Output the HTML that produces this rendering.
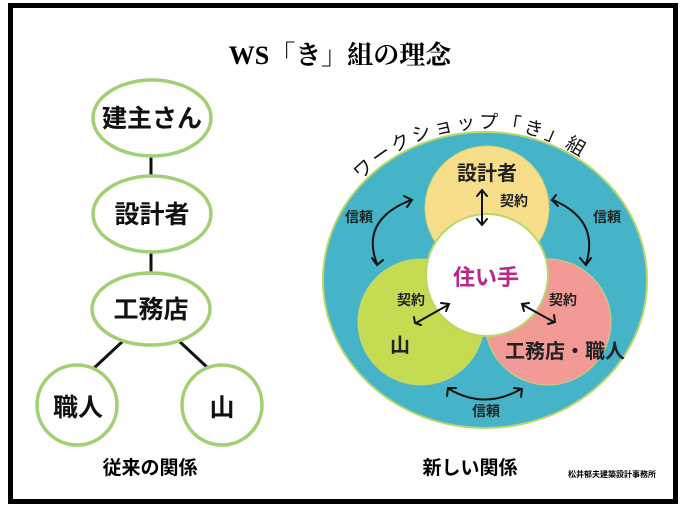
<!DOCTYPE html>
<html><head><meta charset="utf-8"><style>
html,body{margin:0;padding:0;background:#fff;}
svg{display:block;}
text{font-family:"Liberation Sans","Noto Sans CJK JP",sans-serif;font-weight:bold;}
</style></head><body>
<svg width="680" height="509" viewBox="0 0 680 509" xmlns="http://www.w3.org/2000/svg">
<rect x="0" y="0" width="680" height="509" fill="#fff"/>
<rect x="10.5" y="5.5" width="665" height="496" fill="#fff" stroke="#000" stroke-width="5"/>
<text x="340" y="64" text-anchor="middle" font-size="26" style="font-family:'Liberation Serif','Noto Serif CJK SC',serif">WS「き」組の理念</text>
<g stroke="#111" stroke-width="3">
<line x1="151" y1="156" x2="151" y2="176"/>
<line x1="151" y1="253" x2="151" y2="273"/>
<line x1="123" y1="341" x2="93" y2="369"/>
<line x1="179" y1="341" x2="209" y2="369"/>
</g>
<g fill="#fff" stroke="#a2cf72" stroke-width="3.5">
<ellipse cx="152" cy="118" rx="59" ry="38"/>
<ellipse cx="152" cy="214" rx="59" ry="38"/>
<ellipse cx="151" cy="309" rx="59" ry="36"/>
<circle cx="77" cy="405" r="40"/>
<circle cx="222" cy="405" r="40"/>
</g>
<g font-size="25" text-anchor="middle" fill="#111">
<text x="152" y="127">建主さん</text>
<text x="152" y="223">設計者</text>
<text x="151" y="318">工務店</text>
<text x="78" y="416">職人</text>
<text x="222" y="416">山</text>
</g>
<text x="150" y="474" font-size="19" text-anchor="middle">従来の関係</text>
<text x="470" y="474" font-size="19" text-anchor="middle">新しい関係</text>
<text x="612" y="477" font-size="8" text-anchor="middle">松井郁夫建築設計事務所</text>

<ellipse cx="485" cy="280" rx="162" ry="148" fill="#45b4c8" stroke="#b8d66a" stroke-width="2"/>
<circle cx="487" cy="208" r="62" fill="#f7de8a" stroke="#c9d472" stroke-width="1"/>
<circle cx="548" cy="322" r="63" fill="#f29a96" stroke="#c9d472" stroke-width="1"/>
<circle cx="421" cy="322" r="63" fill="#c5dc52" stroke="#c9d472" stroke-width="1"/>
<circle cx="487" cy="275" r="61" fill="#fff" stroke="#b8d66a" stroke-width="2"/>
<defs><path id="arc" d="M 355 187 A 168 160 0 0 1 615 187"/></defs>
<text font-size="19" style="font-weight:normal" fill="#111" letter-spacing="3"><textPath href="#arc" startOffset="3%">ワークショップ「き」組</textPath></text>
<text x="487" y="180" font-size="20" text-anchor="middle" fill="#222">設計者</text>
<text x="486" y="285" font-size="22" text-anchor="middle" fill="#b8278c">住い手</text>
<text x="400" y="352" font-size="20" text-anchor="middle" fill="#222">山</text>
<text x="565" y="358" font-size="20" text-anchor="middle" fill="#222">工務店・職人</text>
<g font-size="14" fill="#222" style="font-weight:normal">
<text x="514" y="206" text-anchor="middle">契約</text>
<text x="411" y="305" text-anchor="middle">契約</text>
<text x="563" y="305" text-anchor="middle">契約</text>
<text x="359" y="222" text-anchor="middle">信頼</text>
<text x="607" y="222" text-anchor="middle">信頼</text>
<text x="486" y="416" text-anchor="middle">信頼</text>
</g>
<g stroke="#111" stroke-width="2" fill="none" stroke-linecap="round">
<line x1="482" y1="191" x2="482" y2="224"/>
<polyline points="477,196 482,190 487,196"/>
<polyline points="477,219 482,225 487,219"/>
<line x1="416" y1="323" x2="448" y2="305"/>
<polyline points="414,317 415,323 421,325"/>
<polyline points="441,303 449,304 446,311"/>
<line x1="523" y1="305" x2="554" y2="322"/>
<polyline points="524,311 522,304 529,303"/>
<polyline points="548,324 555,322 554,315"/>
<path d="M 411 200 Q 360 220 377 264"/>
<polyline points="404,196 412,200 407,207"/>
<polyline points="372,258 377,265 383,260"/>
<path d="M 553 200 Q 600 220 586 264"/>
<polyline points="556,195 552,200 558,206"/>
<polyline points="580,258 586,265 591,258"/>
<path d="M 449 389 Q 485 410 521 389"/>
<polyline points="447,396 448,388 456,388"/>
<polyline points="514,388 522,389 521,397"/>
</g>
</svg>
</body></html>
